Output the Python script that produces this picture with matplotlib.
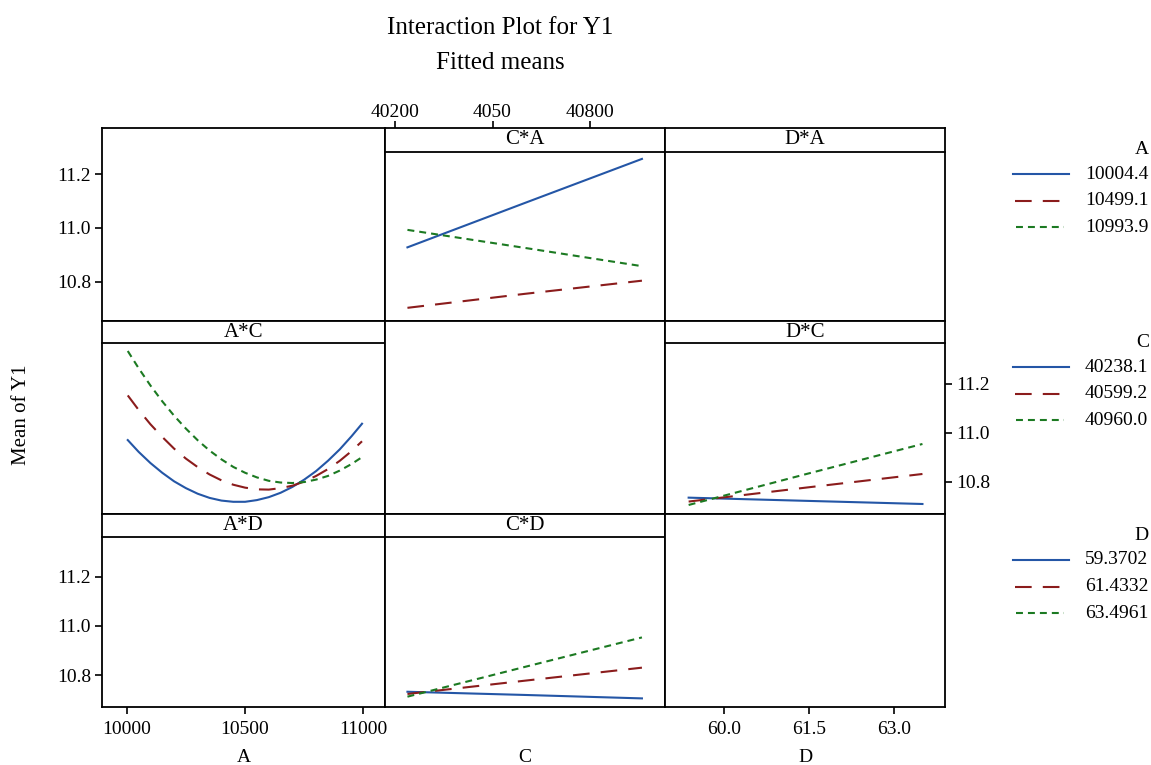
import numpy as np
import matplotlib
matplotlib.use('Agg')
import matplotlib.pyplot as plt

plt.rcParams['font.family'] = ['Liberation Serif', 'DejaVu Serif']
plt.rcParams['lines.scale_dashes'] = False

# factor levels (legend entries)
factors = ['A', 'C', 'D']
A_levels = [10004.4, 10499.1, 10993.9]
C_levels = [40238.1, 40599.2, 40960.0]
D_levels = [59.3702, 61.4332, 63.4961]
A_labels = ['10004.4', '10499.1', '10993.9']
C_labels = ['40238.1', '40599.2', '40960.0']
D_labels = ['59.3702', '61.4332', '63.4961']

# A*C panel: x = A, one curve per C level
A_grid = [10004.4, 10050, 10100, 10150, 10200, 10250, 10300, 10350, 10400, 10450, 10500,
          10550, 10600, 10650, 10700, 10750, 10800, 10850, 10900, 10950, 10993.9]
AC_c1 = [10.970, 10.922, 10.876, 10.836, 10.801, 10.773, 10.750, 10.733, 10.722, 10.717, 10.717,
         10.724, 10.736, 10.754, 10.778, 10.808, 10.843, 10.885, 10.932, 10.986, 11.037]
AC_c2 = [11.153, 11.094, 11.035, 10.983, 10.935, 10.894, 10.859, 10.829, 10.805, 10.787, 10.775,
         10.768, 10.767, 10.773, 10.783, 10.800, 10.823, 10.851, 10.885, 10.925, 10.965]
AC_c3 = [11.335, 11.265, 11.194, 11.129, 11.070, 11.017, 10.969, 10.927, 10.891, 10.860, 10.836,
         10.817, 10.803, 10.796, 10.794, 10.798, 10.808, 10.823, 10.845, 10.872, 10.900]

# C*A panel: x = C, one line per A level
CA_a1 = [10.928, 11.093, 11.257]
CA_a2 = [10.703, 10.755, 10.804]
CA_a3 = [10.993, 10.926, 10.858]

# D*C panel: x = D, one line per C level
DC_c1 = [10.734, 10.721, 10.708]
DC_c2 = [10.718, 10.775, 10.831]
DC_c3 = [10.704, 10.830, 10.954]

# C*D panel: x = C, one line per D level
CD_d1 = [10.732, 10.719, 10.705]
CD_d2 = [10.723, 10.777, 10.830]
CD_d3 = [10.712, 10.833, 10.953]

y_ticks = [10.8, 11.0, 11.2]
y_ticklabels = ['10.8', '11.0', '11.2']
A_ticks = [10000, 10500, 11000]
A_ticklabels = ['10000', '10500', '11000']
C_ticks = [40200, 40500, 40800]
C_ticklabels = ['40200', '4050', '40800']
D_ticks = [60.0, 61.5, 63.0]
D_ticklabels = ['60.0', '61.5', '63.0']

colors = ['#2456a6', '#8b1c1c', '#1c7a22']
dashes = [None, (12, 8), (5, 3.6)]

W, H = 1151, 765
col_edges = [102, 385, 665, 945]
row_edges = [128, 321, 514, 707]
xlims = [(9895.6, 11091), (40169, 41031), (58.953, 63.894)]
ylims = [(10.654, 11.372), (10.667, 11.458), (10.670, 11.455)]
strip_px = [24, 22, 23]

panels = {
    (0, 1): (C_levels, [CA_a1, CA_a2, CA_a3]),
    (1, 0): (A_grid, [AC_c1, AC_c2, AC_c3]),
    (1, 2): (D_levels, [DC_c1, DC_c2, DC_c3]),
    (2, 1): (C_levels, [CD_d1, CD_d2, CD_d3]),
}

fs = 14
lw_frame = 1.3


def draw_line(ax, x, y, k, **kw):
    if dashes[k] is None:
        return ax.plot(x, y, color=colors[k], lw=1.5, ls='-', **kw)
    return ax.plot(x, y, color=colors[k], lw=1.5, ls=(0, dashes[k]), **kw)


fig = plt.figure(figsize=(W / 100, H / 100), dpi=100)

for r in range(3):
    for c in range(3):
        x0, x1 = col_edges[c], col_edges[c + 1]
        y0, y1 = row_edges[r], row_edges[r + 1]
        ax = fig.add_axes([x0 / W, 1 - y1 / H, (x1 - x0) / W, (y1 - y0) / H])
        ax.set_xlim(*xlims[c])
        ax.set_ylim(*ylims[r])
        for s in ax.spines.values():
            s.set_linewidth(lw_frame)
        ax.tick_params(direction='out', length=5, width=1.2, labelsize=fs, pad=3)
        ax.tick_params(axis='x', pad=5)
        ax.set_xticks([])
        ax.set_yticks([])

        if r != c:
            ph = y1 - y0
            f = 1 - strip_px[r] / ph
            ax.plot([0, 1], [f, f], color='k', lw=lw_frame, transform=ax.transAxes, clip_on=False)
            ax.text(0.5, 1 - strip_px[r] / 2 / ph, factors[c] + '*' + factors[r],
                    transform=ax.transAxes, ha='center', va='center', fontsize=15)

        if (r, c) in panels:
            xs, series = panels[(r, c)]
            for k, ys in enumerate(series):
                draw_line(ax, xs, ys, k)

        # axis ticks on the outer frame, Minitab style
        if c == 0 and r in (0, 2):
            ax.set_yticks(y_ticks)
            ax.set_yticklabels(y_ticklabels)
        if c == 2 and r == 1:
            ax.yaxis.tick_right()
            ax.set_yticks(y_ticks)
            ax.set_yticklabels(y_ticklabels)
        if r == 2 and c == 0:
            ax.set_xticks(A_ticks)
            ax.set_xticklabels(A_ticklabels)
        if r == 2 and c == 2:
            ax.set_xticks(D_ticks)
            ax.set_xticklabels(D_ticklabels)
        if r == 0 and c == 1:
            ax.xaxis.tick_top()
            ax.set_xticks(C_ticks)
            ax.set_xticklabels(C_ticklabels)
            ax.tick_params(axis='x', pad=0)

# titles and axis labels
fig.text(500 / W, 1 - 28 / H, 'Interaction Plot for Y1', ha='center', va='center', fontsize=18)
fig.text(500 / W, 1 - 63 / H, 'Fitted means', ha='center', va='center', fontsize=18)
fig.text(22 / W, 1 - 415 / H, 'Mean of Y1', rotation=90, ha='center', va='center', fontsize=15)
for c, name in enumerate(factors):
    xc = (col_edges[c] + col_edges[c + 1]) / 2
    fig.text(xc / W, 1 - 757 / H, name, ha='center', va='center', fontsize=fs)

# legends, one group per row
lax = fig.add_axes([0, 0, 1, 1])
lax.set_xlim(0, W)
lax.set_ylim(H, 0)
lax.axis('off')
groups = [('A', A_labels), ('C', C_labels), ('D', D_labels)]
sample_x = [(1013, 1069), (1015, 1060), (1016, 1064)]
for g, (name, labels) in enumerate(groups):
    hy = row_edges[g] + 21
    lax.text(1149, hy, name, ha='right', va='center', fontsize=fs)
    for k, lab in enumerate(labels):
        yy = hy + 25 + 26.7 * k
        draw_line(lax, list(sample_x[k]), [yy, yy], k)
        lax.text(1085, yy, lab, ha='left', va='center', fontsize=fs)

fig.savefig('out.png', dpi=100)
